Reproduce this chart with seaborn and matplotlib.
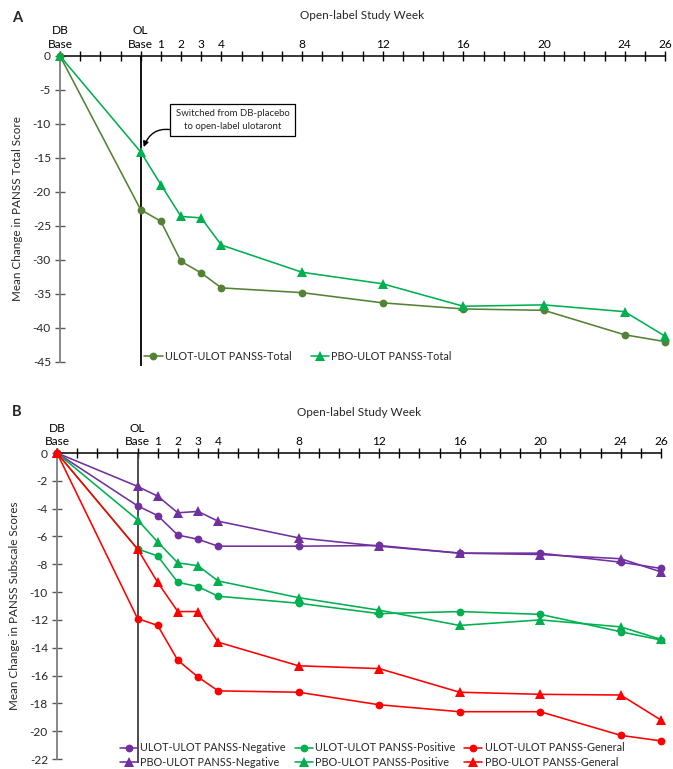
import numpy as np
import pandas as pd
import matplotlib
matplotlib.use("Agg")
import matplotlib.pyplot as plt
import seaborn as sns

# x positions: DB baseline drawn 4 weeks before OL baseline
weeks = [-4, 0, 1, 2, 3, 4, 8, 12, 16, 20, 24, 26]
week_labels = ["DB\nBase", "OL\nBase", "1", "2", "3", "4", "8", "12", "16", "20", "24", "26"]

# Panel A - PANSS total
ulot_total = [0, -22.6, -24.3, -30.2, -31.9, -34.1, -34.8, -36.3, -37.2, -37.4, -41.0, -42.0]
pbo_total = [0, -14.1, -18.9, -23.6, -23.8, -27.8, -31.8, -33.5, -36.8, -36.6, -37.6, -41.2]

# Panel B - PANSS subscales
ulot_neg = [0, -3.8, -4.5, -5.9, -6.2, -6.7, -6.7, -6.65, -7.2, -7.2, -7.85, -8.3]
pbo_neg = [0, -2.4, -3.1, -4.3, -4.2, -4.9, -6.1, -6.7, -7.2, -7.3, -7.6, -8.55]
ulot_pos = [0, -6.9, -7.4, -9.3, -9.6, -10.3, -10.8, -11.55, -11.4, -11.6, -12.85, -13.45]
pbo_pos = [0, -4.8, -6.4, -7.9, -8.1, -9.2, -10.4, -11.3, -12.4, -12.0, -12.5, -13.4]
ulot_gen = [0, -11.9, -12.4, -14.9, -16.1, -17.1, -17.2, -18.1, -18.6, -18.6, -20.3, -20.7]
pbo_gen = [0, -6.9, -9.3, -11.4, -11.4, -13.6, -15.3, -15.5, -17.2, -17.35, -17.4, -19.2]

sns.set_theme(style="white")
plt.rcParams["font.family"] = ["Lato", "DejaVu Sans"]

W, H = 673, 769
fig = plt.figure(figsize=(W / 100, H / 100), dpi=100)
axA = fig.add_axes([60 / W, 1 - 362 / H, (665 - 60) / W, (362 - 56) / H])
axB = fig.add_axes([57 / W, 1 - 759 / H, (661 - 57) / W, (759 - 453) / H])


def style_axis(ax, ymin, ystep, ylabel, vcolor):
    ax.set_xlim(-4, 26)
    ax.set_ylim(ymin, 0)
    ax.xaxis.tick_top()
    ax.xaxis.set_label_position("top")
    ax.set_xticks(weeks)
    ax.set_xticklabels(week_labels, fontsize=8.6, linespacing=1.25)
    ax.set_xticks(range(-4, 27), minor=True)
    yt = np.arange(ymin, 0.1, ystep)
    ax.set_yticks(yt)
    ax.set_yticklabels([f"{v:g}" for v in yt], fontsize=8.6)
    ax.tick_params(axis="x", which="both", direction="inout", length=7, width=1,
                   top=True, bottom=False, pad=1, colors="black")
    ax.tick_params(axis="y", direction="inout", length=7, width=1, left=True, pad=3,
                   color="#595959")
    for s in ["right", "bottom"]:
        ax.spines[s].set_visible(False)
    ax.spines["top"].set_color("black")
    ax.spines["top"].set_linewidth(1.1)
    ax.spines["left"].set_color("#7f7f7f")
    ax.spines["left"].set_linewidth(1.3)
    ax.set_xlabel("Open-label Study Week", fontsize=8.5, labelpad=5)
    ax.set_ylabel(ylabel, fontsize=8.4, labelpad=7)
    ax.vlines(0, ymin - 0.012 * abs(ymin), 0, color=vcolor, lw=1.3, clip_on=False, zorder=1)


def draw(ax, y, color, marker, label):
    df = pd.DataFrame({"week": weeks, "change": y})
    ms = 5.6 if marker == "o" else 6.6
    sns.lineplot(data=df, x="week", y="change", ax=ax, color=color, marker=marker,
                 markersize=ms, markeredgewidth=0, lw=1.15, label=label,
                 legend=False, clip_on=False, zorder=3)


# Panel A
style_axis(axA, -45, 5, "Mean Change in PANSS Total Score", "black")
draw(axA, ulot_total, "#548235", "o", "ULOT-ULOT PANSS-Total")
draw(axA, pbo_total, "#00B050", "^", "PBO-ULOT PANSS-Total")
axA.annotate("Switched from DB-placebo\nto open-label ulotaront",
             xy=(0.15, -13.4), xytext=(4.55, -9.4), fontsize=6.9, ha="center", va="center",
             linespacing=1.5,
             bbox=dict(boxstyle="square,pad=0.55", fc="white", ec="black", lw=0.9),
             arrowprops=dict(arrowstyle="-|>", color="black", lw=1.0, relpos=(0, 0),
                             connectionstyle="arc3,rad=0.45", shrinkA=0, shrinkB=0,
                             mutation_scale=8))
fig.legend(handles=axA.get_lines()[-2:], loc="center",
           bbox_to_anchor=(298 / W, 1 - 356 / H),
           ncol=2, frameon=False, fontsize=7.8, handlelength=1.7, columnspacing=1.8,
           handletextpad=0.2, borderpad=0)

# Panel B
style_axis(axB, -22, 2, "Mean Change in PANSS Subscale Scores", "#404040")
series_b = [
    (ulot_neg, "#7030A0", "o", "ULOT-ULOT PANSS-Negative"),
    (pbo_neg, "#7030A0", "^", "PBO-ULOT PANSS-Negative"),
    (ulot_pos, "#00B050", "o", "ULOT-ULOT PANSS-Positive"),
    (pbo_pos, "#00B050", "^", "PBO-ULOT PANSS-Positive"),
    (ulot_gen, "#FF0000", "o", "ULOT-ULOT PANSS-General"),
    (pbo_gen, "#FF0000", "^", "PBO-ULOT PANSS-General"),
]
for y, c, m, lab in series_b:
    draw(axB, y, c, m, lab)
lines_b = [l for l in axB.get_lines() if not l.get_label().startswith("_")]
fig.legend(handles=lines_b, loc="center", bbox_to_anchor=(372 / W, 1 - 755 / H),
           ncol=3, frameon=False, fontsize=7.8, handlelength=1.7, columnspacing=0.8,
           handletextpad=0.2, labelspacing=0.3, borderpad=0)

fig.text(12 / W, 1 - 18 / H, "A", fontsize=10.5, fontweight="bold", va="center")
fig.text(12 / W, 1 - 412 / H, "B", fontsize=10.5, fontweight="bold", va="center")

fig.savefig("out.png", dpi=100)
